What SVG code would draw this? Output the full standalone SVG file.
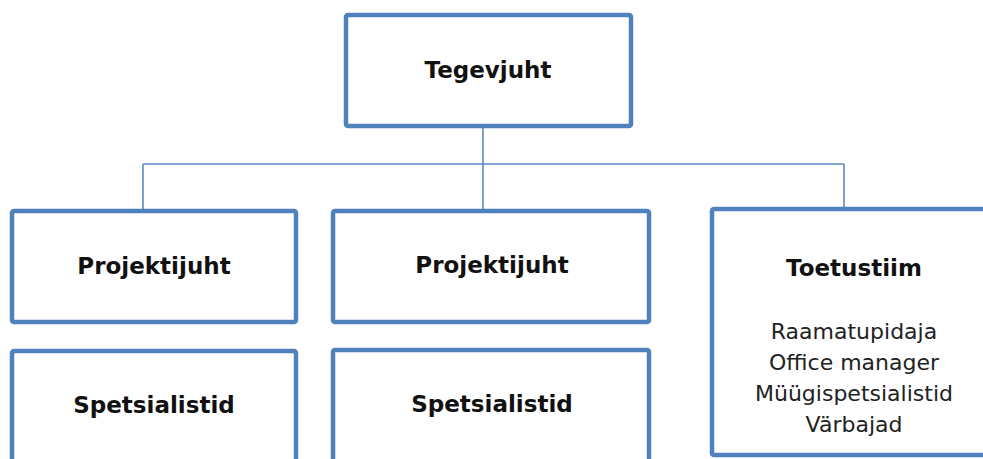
<svg xmlns="http://www.w3.org/2000/svg" width="983" height="459" viewBox="0 0 983 459">
  <style>
    .box { fill: #ffffff; stroke: #4f81bd; stroke-width: 4.5; }
    .link { fill: none; stroke: #5b8ac6; stroke-width: 1.6; }
    .title { font-family: "DejaVu Sans", Verdana, sans-serif; font-weight: bold; font-size: 23px; fill: #111111; text-anchor: middle; }
    .item { font-family: "DejaVu Sans", Verdana, sans-serif; font-size: 22px; fill: #222222; text-anchor: middle; }
  </style>
  <rect width="983" height="459" fill="#ffffff"/>

  <g id="connectors">
    <path class="link" d="M483 126 V211"/>
    <path class="link" d="M143 164 H844"/>
    <path class="link" d="M143 164 V211"/>
    <path class="link" d="M844 164 V209"/>
  </g>

  <g id="tegevjuht">
    <rect class="box" x="346" y="15" width="285" height="111" rx="2"/>
    <text class="title" x="488" y="78">Tegevjuht</text>
  </g>

  <g id="projektijuht-1">
    <rect class="box" x="12" y="211" width="284" height="111" rx="2"/>
    <text class="title" x="154" y="274">Projektijuht</text>
  </g>

  <g id="spetsialistid-1">
    <rect class="box" x="12" y="351" width="284" height="120" rx="2"/>
    <text class="title" x="154" y="413">Spetsialistid</text>
  </g>

  <g id="projektijuht-2">
    <rect class="box" x="333" y="211" width="316" height="111" rx="2"/>
    <text class="title" x="492" y="273">Projektijuht</text>
  </g>

  <g id="spetsialistid-2">
    <rect class="box" x="333" y="350" width="316" height="120" rx="2"/>
    <text class="title" x="492" y="412">Spetsialistid</text>
  </g>

  <g id="toetustiim">
    <rect class="box" x="712" y="209" width="290" height="246" rx="2"/>
    <text class="title" x="854" y="276">Toetustiim</text>
    <text class="item" x="854" y="339">Raamatupidaja</text>
    <text class="item" x="854" y="370">Office manager</text>
    <text class="item" x="854" y="401">Müügispetsialistid</text>
    <text class="item" x="854" y="432">Värbajad</text>
  </g>
</svg>
